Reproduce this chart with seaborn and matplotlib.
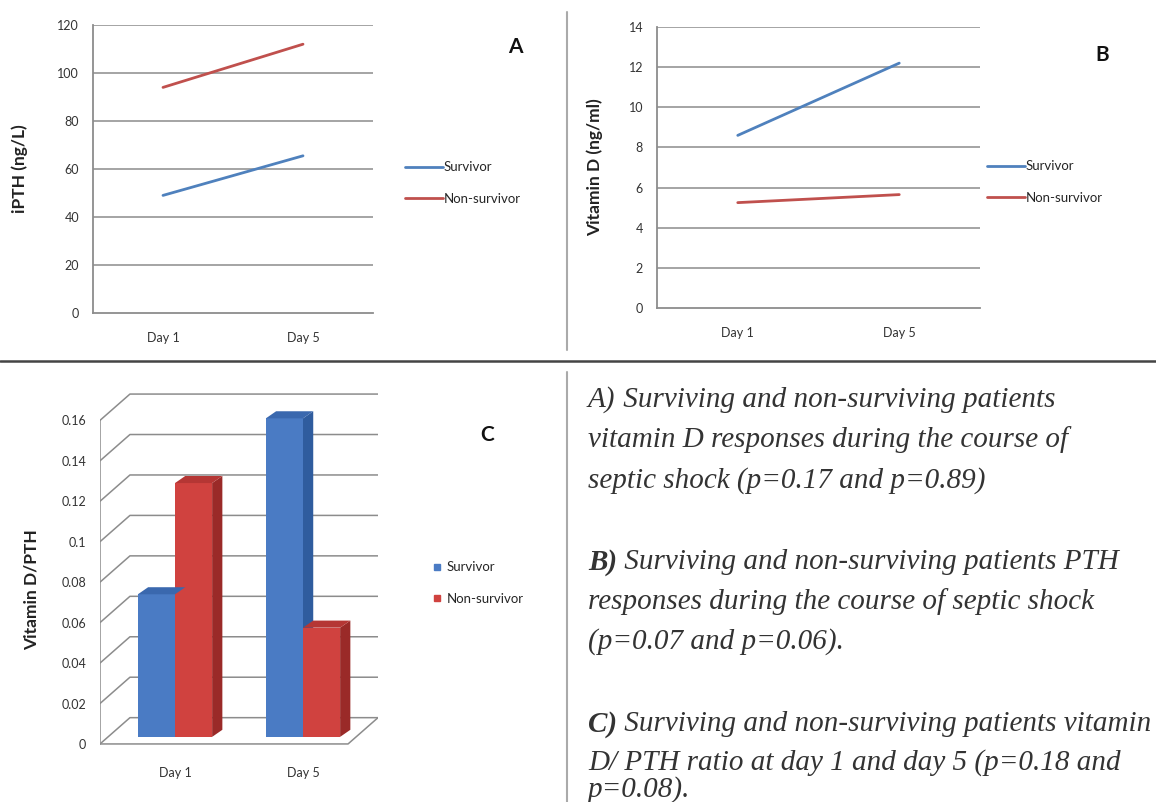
import pandas as pd
import matplotlib
matplotlib.use("Agg")
import matplotlib.pyplot as plt
from matplotlib.patches import Polygon
from matplotlib.lines import Line2D
import seaborn as sns

# values
days = ["Day 1", "Day 5"]
groups = ["Survivor", "Non-survivor"]
ipth_survivor = [49, 65.5]
ipth_nonsurvivor = [94, 112]
vitd_survivor = [8.6, 12.2]
vitd_nonsurvivor = [5.25, 5.65]
ratio_survivor = [0.0705, 0.1575]
ratio_nonsurvivor = [0.1255, 0.054]

ipth_ticks = [0, 20, 40, 60, 80, 100, 120]
vitd_ticks = [0, 2, 4, 6, 8, 10, 12, 14]
ratio_ticks = [0, 0.02, 0.04, 0.06, 0.08, 0.1, 0.12, 0.14, 0.16]

captions = [
    ("A)", False, [" Surviving and non-surviving patients",
                   "vitamin D responses during the course of",
                   "septic shock (p=0.17 and p=0.89)"]),
    ("B)", True, [" Surviving and non-surviving patients PTH",
                  "responses during the course of septic shock",
                  "(p=0.07 and p=0.06)."]),
    ("C)", True, [" Surviving and non-surviving patients vitamin",
                  "D/ PTH ratio at day 1 and day 5 (p=0.18 and",
                  "p=0.08)."]),
]

blue = "#4F81BD"
red = "#C0504D"
palette = {"Survivor": blue, "Non-survivor": red}
bar_palette = {"Survivor": "#4A7BC4", "Non-survivor": "#D0423F"}
grid_gray = "#8C8C8C"

sns.set_theme(style="white")
plt.rcParams["font.family"] = ["Lato", "DejaVu Sans"]

W, H = 1156, 802
fig = plt.figure(figsize=(W / 100, H / 100), dpi=100)


def px_axes(left, top, right, bottom):
    return fig.add_axes([left / W, 1 - bottom / H, (right - left) / W, (bottom - top) / H])


def long_table(surv, nonsurv):
    return pd.DataFrame({
        "day": days * 2,
        "group": [groups[0]] * 2 + [groups[1]] * 2,
        "value": list(surv) + list(nonsurv),
    })


def line_panel(ax, data, ticks, ylabel, letter_xy, legend_xy, ylabel_x):
    sns.lineplot(data=data, x="day", y="value", hue="group", palette=palette,
                 linewidth=2.0, ax=ax)
    ax.set_xlim(-0.5, 1.5)
    ax.set_ylim(ticks[0], ticks[-1])
    ax.set_yticks(ticks)
    ax.set_yticklabels([str(t) for t in ticks], fontsize=9, color="#333333")
    ax.tick_params(axis="x", labelsize=9, colors="#333333", pad=14, length=0)
    ax.tick_params(axis="y", pad=10, length=0)
    for t in ticks[1:]:
        ax.axhline(t, color=grid_gray, lw=1.1, zorder=0)
    for s in ["top", "right"]:
        ax.spines[s].set_visible(False)
    for s in ["left", "bottom"]:
        ax.spines[s].set_color(grid_gray)
        ax.spines[s].set_linewidth(1.3)
    ax.set_xlabel("")
    ax.set_ylabel("")
    pos = ax.get_position()
    fig.text(ylabel_x / W, pos.y0 + pos.height / 2, ylabel, rotation=90, ha="center",
             va="center", fontsize=12.5, fontweight="bold", color="#222222")
    handles, labels = ax.get_legend_handles_labels()
    ax.legend(handles, labels, loc="center left", bbox_to_anchor=legend_xy,
              bbox_transform=fig.transFigure, frameon=False, fontsize=9.5,
              handlelength=2.9, handletextpad=0.05, labelspacing=1.45)
    fig.text(letter_xy[0] / W, 1 - letter_xy[1] / H, letter_xy[2], fontsize=15,
             fontweight="bold", ha="center", va="center", color="#111111")


# Panel A: iPTH
axA = px_axes(93, 25, 373, 313)
line_panel(axA, long_table(ipth_survivor, ipth_nonsurvivor), ipth_ticks,
           "iPTH (ng/L)", (515, 47, "A"), (393 / W, 1 - 183 / H), 20)

# Panel B: vitamin D
axB = px_axes(657, 27, 980, 308)
line_panel(axB, long_table(vitd_survivor, vitd_nonsurvivor), vitd_ticks,
           "Vitamin D (ng/ml)", (1102, 55, "B"), (975 / W, 1 - 182 / H), 595)

# Panel C: vitamin D / PTH ratio, pseudo-3D bars
axC = px_axes(100, 388, 378, 748)
ratio_df = long_table(ratio_survivor, ratio_nonsurvivor)
sns.barplot(data=ratio_df, x="day", y="value", hue="group", palette=bar_palette,
            width=0.58, saturation=1, linewidth=0, edgecolor="none", ax=axC, zorder=3)
xmin, xmax = -0.586, 1.586
wall_dx, wall_dy = 0.234, 0.013
base = 0.0035
axC.set_xlim(xmin, xmax)
axC.set_ylim(-0.002, 0.176)
axC.set_yticks(ratio_ticks)
axC.set_yticklabels([f"{t:g}" for t in ratio_ticks], fontsize=9, color="#333333")
axC.tick_params(axis="y", length=0, pad=10)
axC.tick_params(axis="x", length=0, labelsize=9, colors="#333333", pad=14)
for s in axC.spines.values():
    s.set_visible(False)
axC.set_xlabel("")
axC.set_ylabel("")
# back wall and floor
for t in ratio_ticks:
    axC.plot([xmin, xmin + wall_dx, xmax], [t, t + wall_dy, t + wall_dy],
             color=grid_gray, lw=1.1, zorder=1)
axC.plot([xmin, xmin], [0, ratio_ticks[-1]], color=grid_gray, lw=1.1, zorder=1)
axC.plot([xmin, xmax - wall_dx, xmax], [0, 0, wall_dy], color=grid_gray, lw=1.1, zorder=1)
# depth faces derived from the drawn bars
side_dark = {"Survivor": "#2F5C9E", "Non-survivor": "#9A2A28"}
top_col = {"Survivor": "#3A68AE", "Non-survivor": "#B53634"}
bar_dx, bar_dy = 0.08, 0.0035
surv_hex = matplotlib.colors.to_hex(bar_palette["Survivor"])
for p in list(axC.patches):
    if p.get_height() <= 0:
        continue
    p.set_y(p.get_y() + base)
    fc = matplotlib.colors.to_hex(p.get_facecolor())
    key = "Survivor" if fc.lower() == surv_hex.lower() else "Non-survivor"
    x0, y0, w, h = p.get_x(), p.get_y(), p.get_width(), p.get_height()
    side = Polygon([(x0 + w, y0), (x0 + w + bar_dx, y0 + bar_dy),
                    (x0 + w + bar_dx, y0 + h + bar_dy), (x0 + w, y0 + h)],
                   closed=True, facecolor=side_dark[key], edgecolor="none", zorder=2)
    top = Polygon([(x0, y0 + h), (x0 + bar_dx, y0 + h + bar_dy),
                   (x0 + w + bar_dx, y0 + h + bar_dy), (x0 + w, y0 + h)],
                  closed=True, facecolor=top_col[key], edgecolor="none", zorder=4)
    axC.add_patch(side)
    axC.add_patch(top)
    p.set_zorder(3)
fig.text(32 / W, 1 - 590 / H, "Vitamin D/PTH", rotation=90, ha="center", va="center",
         fontsize=12.5, fontweight="bold", color="#222222")
axC.legend([Line2D([], [], marker="s", ls="", color=bar_palette["Survivor"], markersize=5),
            Line2D([], [], marker="s", ls="", color=bar_palette["Non-survivor"], markersize=5)],
           groups, loc="center left", bbox_to_anchor=(420 / W, 1 - 583 / H),
           bbox_transform=fig.transFigure, frameon=False, fontsize=9.5,
           handlelength=0.8, handletextpad=0.3, labelspacing=1.45)
fig.text(487 / W, 1 - 435 / H, "C", fontsize=15, fontweight="bold", ha="center",
         va="center", color="#111111")

# dividers
fig.add_artist(Line2D([0, 1], [1 - 361 / H, 1 - 361 / H], color="#444444", lw=1.8))
fig.add_artist(Line2D([567 / W, 567 / W], [1 - 12 / H, 1 - 350 / H], color="#AAAAAA", lw=1.5))
fig.add_artist(Line2D([567 / W, 567 / W], [1 - 372 / H, 0], color="#AAAAAA", lw=1.5))

# caption text
line_y = [[400, 440, 481], [562, 602, 642], [724, 763, 790]]
serif = ["Liberation Serif", "DejaVu Serif"]
for (label, bold, lines), ys in zip(captions, line_y):
    t = fig.text(588 / W, 1 - ys[0] / H, label, fontsize=21, style="italic",
                 fontweight="bold" if bold else "normal", family=serif,
                 va="center", color="#333333")
    fig.canvas.draw()
    bb = t.get_window_extent()
    fig.text(bb.x1 / W, 1 - ys[0] / H, lines[0], fontsize=21, style="italic",
             family=serif, va="center", color="#333333")
    for ln, y in zip(lines[1:], ys[1:]):
        fig.text(588 / W, 1 - y / H, ln, fontsize=21, style="italic", family=serif,
                 va="center", color="#333333")

fig.savefig("out.png", dpi=100)
